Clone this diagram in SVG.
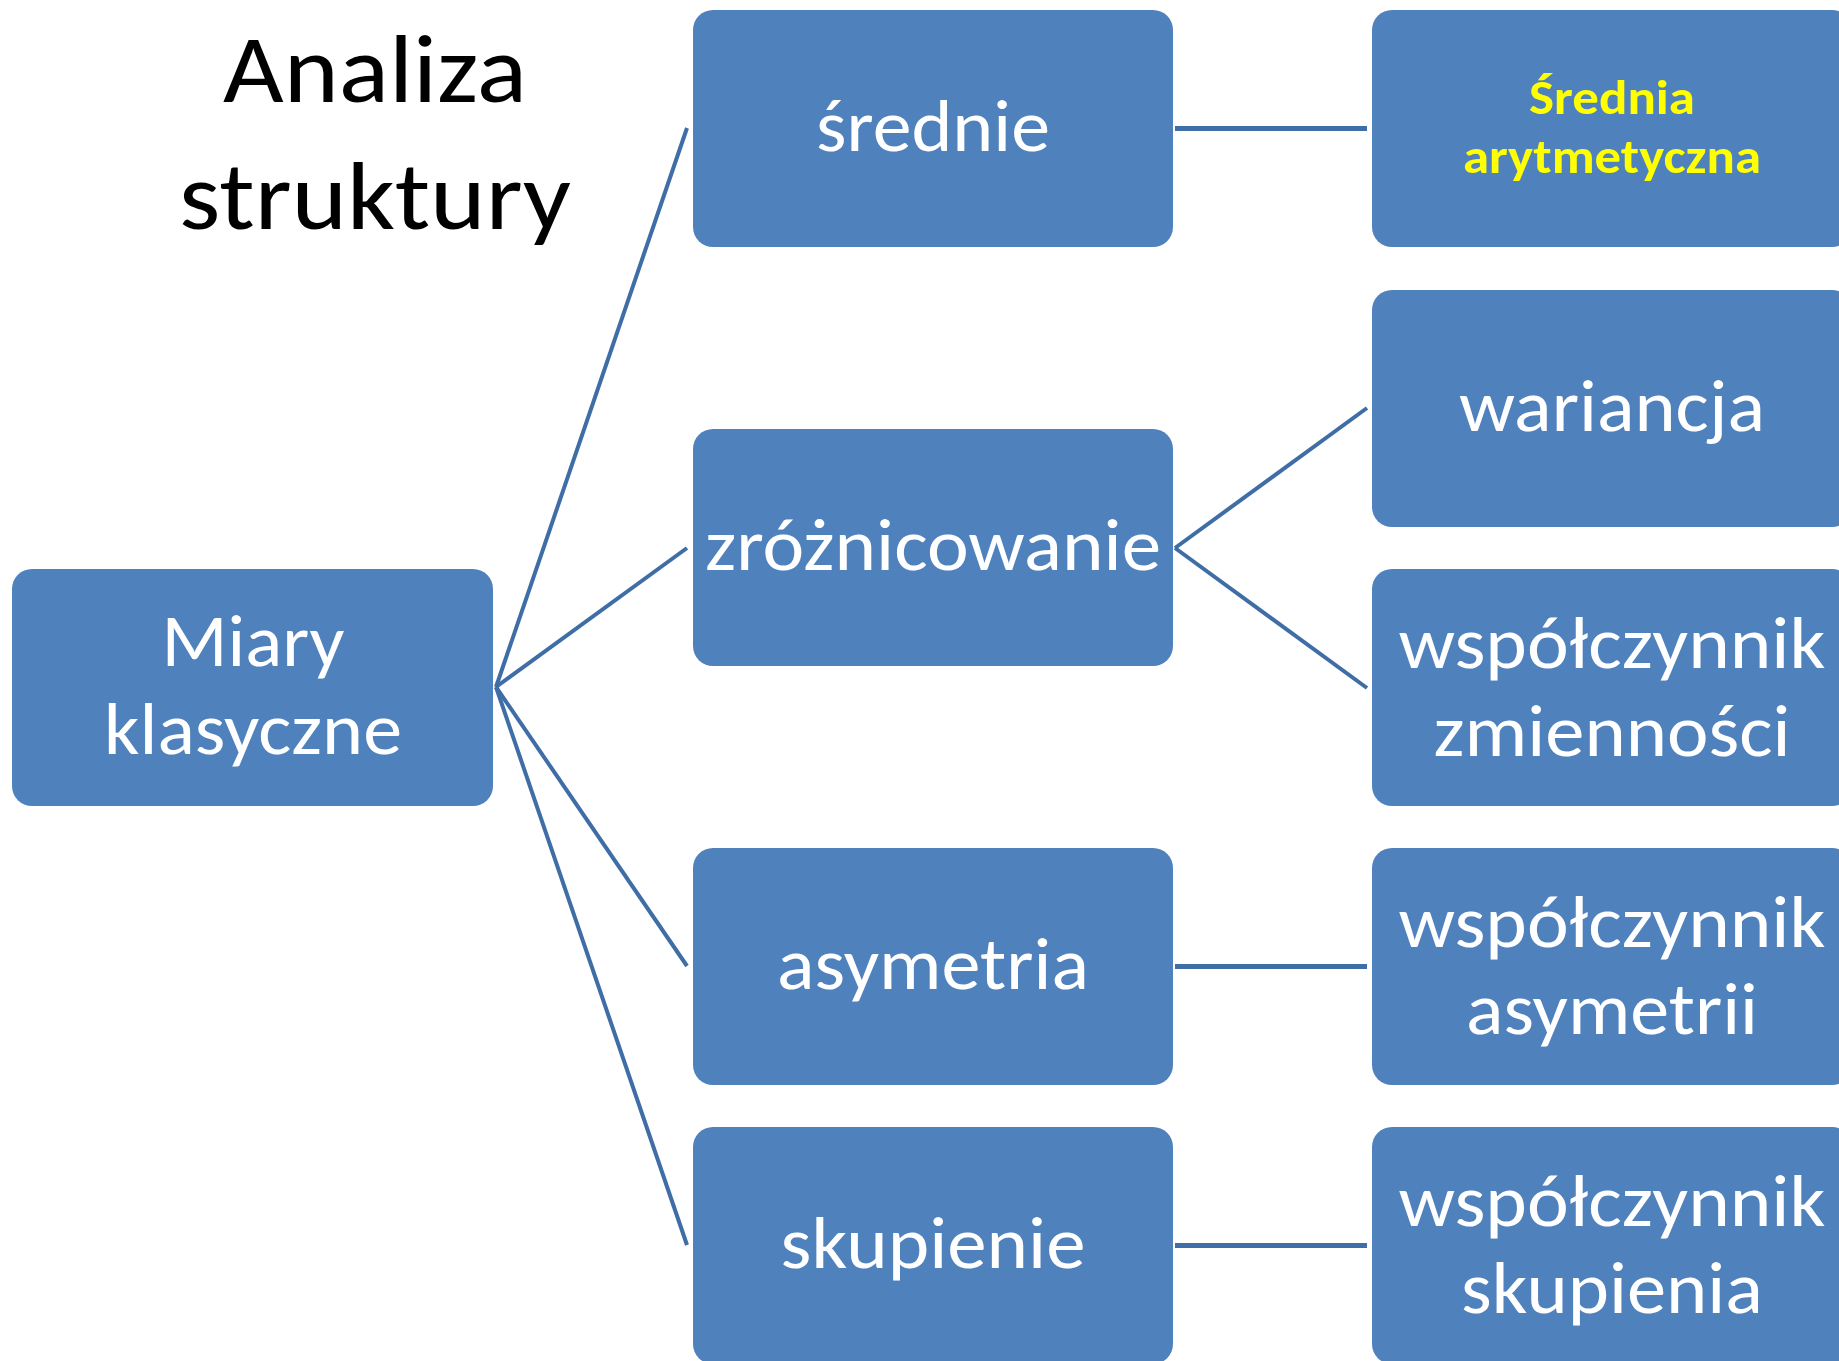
<svg xmlns="http://www.w3.org/2000/svg" width="1839" height="1361" viewBox="0 0 1839 1361">
<style>
.box{fill:#4f81bd;}
.t{font-family:Calibri,Carlito,Lato,"Open Sans",sans-serif;fill:#ffffff;font-size:75px;text-anchor:middle;}
.y{font-family:Calibri,Carlito,Lato,"Open Sans",sans-serif;fill:#ffff00;font-size:49px;font-weight:bold;text-anchor:middle;}
.title{font-family:Calibri,Carlito,Lato,"Open Sans",sans-serif;fill:#000000;font-size:96px;text-anchor:middle;}
.c{stroke:#3f6da6;fill:none;}
.d{stroke-width:4;}
.h{stroke-width:5;}
</style>
<rect width="1839" height="1361" fill="#ffffff"/>
<g id="title">
<text class="title" x="375" y="102" textLength="304" lengthAdjust="spacingAndGlyphs">Analiza</text>
<text class="title" x="375" y="229" textLength="392" lengthAdjust="spacingAndGlyphs">struktury</text>
</g>
<g id="connectors">
<line class="c d" x1="496" y1="687" x2="687" y2="128"/>
<line class="c d" x1="496" y1="687" x2="687" y2="548"/>
<line class="c d" x1="496" y1="687" x2="687" y2="966"/>
<line class="c d" x1="496" y1="687" x2="687" y2="1245"/>
<line class="c h" x1="1175" y1="128.5" x2="1367" y2="128.5"/>
<line class="c d" x1="1175" y1="548" x2="1367" y2="408"/>
<line class="c d" x1="1175" y1="548" x2="1367" y2="688"/>
<line class="c h" x1="1175" y1="966.5" x2="1367" y2="966.5"/>
<line class="c h" x1="1175" y1="1245.5" x2="1367" y2="1245.5"/>
</g>
<g id="miary">
<rect class="box" x="12" y="569" width="481" height="237" rx="20"/>
<text class="t" x="253" y="666" textLength="183" lengthAdjust="spacingAndGlyphs">Miary</text>
<text class="t" x="253" y="754" textLength="298" lengthAdjust="spacingAndGlyphs">klasyczne</text>
</g>
<g id="srednie">
<rect class="box" x="693" y="10" width="480" height="237" rx="20"/>
<text class="t" x="933" y="151" textLength="234" lengthAdjust="spacingAndGlyphs">średnie</text>
</g>
<g id="zroznicowanie">
<rect class="box" x="693" y="429" width="480" height="237" rx="20"/>
<text class="t" x="933" y="570" textLength="456" lengthAdjust="spacingAndGlyphs">zróżnicowanie</text>
</g>
<g id="asymetria">
<rect class="box" x="693" y="848" width="480" height="237" rx="20"/>
<text class="t" x="933" y="989" textLength="312" lengthAdjust="spacingAndGlyphs">asymetria</text>
</g>
<g id="skupienie">
<rect class="box" x="693" y="1127" width="480" height="237" rx="20"/>
<text class="t" x="933" y="1268" textLength="305" lengthAdjust="spacingAndGlyphs">skupienie</text>
</g>
<g id="srednia-arytmetyczna">
<rect class="box" x="1372" y="10" width="480" height="237" rx="20"/>
<text class="y" x="1612" y="114" textLength="166" lengthAdjust="spacingAndGlyphs">Średnia</text>
<text class="y" x="1612" y="173" textLength="298" lengthAdjust="spacingAndGlyphs">arytmetyczna</text>
</g>
<g id="wariancja">
<rect class="box" x="1372" y="290" width="480" height="237" rx="20"/>
<text class="t" x="1612" y="431" textLength="306" lengthAdjust="spacingAndGlyphs">wariancja</text>
</g>
<g id="wsp-zmiennosci">
<rect class="box" x="1372" y="569" width="480" height="237" rx="20"/>
<text class="t" x="1612" y="668" textLength="427" lengthAdjust="spacingAndGlyphs">współczynnik</text>
<text class="t" x="1612" y="756" textLength="357" lengthAdjust="spacingAndGlyphs">zmienności</text>
</g>
<g id="wsp-asymetrii">
<rect class="box" x="1372" y="848" width="480" height="237" rx="20"/>
<text class="t" x="1612" y="947" textLength="427" lengthAdjust="spacingAndGlyphs">współczynnik</text>
<text class="t" x="1612" y="1034" textLength="292" lengthAdjust="spacingAndGlyphs">asymetrii</text>
</g>
<g id="wsp-skupienia">
<rect class="box" x="1372" y="1127" width="480" height="237" rx="20"/>
<text class="t" x="1612" y="1226" textLength="427" lengthAdjust="spacingAndGlyphs">współczynnik</text>
<text class="t" x="1612" y="1313" textLength="302" lengthAdjust="spacingAndGlyphs">skupienia</text>
</g>
</svg>
